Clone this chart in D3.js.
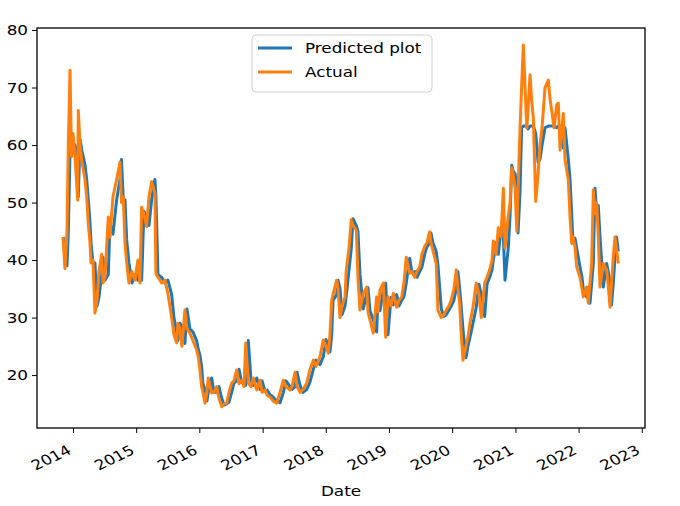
<!DOCTYPE html>
<html>
<head>
<meta charset="utf-8">
<script src="https://cdn.jsdelivr.net/npm/d3@7"></script>
<style>
    body { margin: 0; background: #fff; }
    svg text { font-family: "DejaVu Sans", sans-serif; fill: #000; }
    .axis path, .axis line { stroke: #000; }
</style>
</head>
<body>
<div id="chart"></div>
<script>
// dates as decimal years
const dates = [
    2013.842, 2013.873, 2013.905, 2013.926, 2013.953, 2013.976, 2014.000, 2014.032, 2014.074, 2014.084,
    2014.111, 2014.142, 2014.190, 2014.217, 2014.242, 2014.269, 2014.285, 2014.316, 2014.348, 2014.380,
    2014.411, 2014.454, 2014.475, 2014.506, 2014.559, 2014.585, 2014.633, 2014.691, 2014.744, 2014.767,
    2014.796, 2014.823, 2014.850, 2014.886, 2014.934, 2014.981, 2015.028, 2015.060, 2015.087, 2015.123,
    2015.166, 2015.203, 2015.245, 2015.297, 2015.313, 2015.345, 2015.403, 2015.456, 2015.503, 2015.562,
    2015.598, 2015.641, 2015.661, 2015.693, 2015.725, 2015.772, 2015.804, 2015.851, 2015.899, 2015.957,
    2015.983, 2016.009, 2016.036, 2016.057, 2016.089, 2016.120, 2016.141, 2016.195, 2016.231, 2016.274,
    2016.310, 2016.353, 2016.389, 2016.432, 2016.468, 2016.511, 2016.547, 2016.590, 2016.627, 2016.669,
    2016.706, 2016.733, 2016.774, 2016.816, 2016.853, 2016.907, 2016.959, 2016.991, 2017.038, 2017.070,
    2017.117, 2017.165, 2017.223, 2017.275, 2017.328, 2017.370, 2017.434, 2017.465, 2017.513, 2017.544,
    2017.592, 2017.639, 2017.698, 2017.750, 2017.802, 2017.845, 2017.908, 2017.960, 2018.003, 2018.040,
    2018.066, 2018.093, 2018.114, 2018.172, 2018.193, 2018.225, 2018.256, 2018.304, 2018.324, 2018.367,
    2018.403, 2018.430, 2018.483, 2018.509, 2018.541, 2018.593, 2018.647, 2018.668, 2018.699, 2018.752,
    2018.805, 2018.826, 2018.858, 2018.910, 2018.948, 2018.984, 2019.032, 2019.068, 2019.122, 2019.158,
    2019.201, 2019.237, 2019.274, 2019.328, 2019.364, 2019.407, 2019.443, 2019.486, 2019.522, 2019.565,
    2019.601, 2019.644, 2019.665, 2019.696, 2019.748, 2019.775, 2019.828, 2019.870, 2019.907, 2019.949,
    2019.986, 2020.028, 2020.065, 2020.092, 2020.119, 2020.139, 2020.171, 2020.218, 2020.250, 2020.282,
    2020.329, 2020.381, 2020.424, 2020.460, 2020.514, 2020.551, 2020.593, 2020.630, 2020.650, 2020.693,
    2020.729, 2020.772, 2020.809, 2020.835, 2020.888, 2020.915, 2020.941, 2020.962, 2020.994, 2021.021,
    2021.041, 2021.073, 2021.097, 2021.125, 2021.152, 2021.179, 2021.199, 2021.231, 2021.255, 2021.283,
    2021.321, 2021.358, 2021.389, 2021.421, 2021.468, 2021.521, 2021.547, 2021.574, 2021.611, 2021.653,
    2021.679, 2021.706, 2021.758, 2021.785, 2021.837, 2021.864, 2021.891, 2021.911, 2021.943, 2021.970,
    2022.022, 2022.054, 2022.074, 2022.128, 2022.153, 2022.180, 2022.207, 2022.233, 2022.259, 2022.286,
    2022.312, 2022.339, 2022.391, 2022.444, 2022.465, 2022.497, 2022.521, 2022.549, 2022.576, 2022.600,
    2022.628
];

const actual = [
    44, 38.5, 45, 60, 73, 58, 62, 58, 50.4, 66,
    60, 57, 54, 51, 46.4, 43, 39.5, 40, 30.8, 33,
    38, 41, 36, 37, 47.5, 44, 51, 54, 57, 50,
    51, 43, 39.5, 36, 38, 36.5, 40, 36, 49.2, 48,
    45.8, 51, 53.6, 51.6, 37.7, 37, 36, 36.5, 34.2, 30,
    27, 25.6, 29, 28, 25, 31.3, 28, 27.3, 26, 24.4,
    23.2, 21, 18, 17, 15.1, 17, 19.5, 16.9, 17, 18,
    16, 14.5, 15, 15.1, 17, 18.6, 19, 20.9, 18.5, 19.1,
    18, 25.6, 18.6, 18, 19.5, 17.4, 19.1, 17, 17.4, 16.5,
    16.2, 15.5, 15.1, 17, 19.1, 18, 17.4, 18, 20.5, 18,
    17, 17.5, 18.6, 21, 22.6, 21.5, 23.2, 26.1, 25, 23.8,
    27, 33, 34, 36.5, 35, 30, 32, 33.6, 38.3, 42,
    47, 46, 45.2, 37, 31.3, 34.2, 35.3, 31, 29.6, 27.3,
    33.6, 31, 34.8, 36, 26.6, 33.6, 32, 34.2, 31.8, 33,
    33.6, 36, 40.5, 37.7, 38, 37, 38, 38.8, 41, 42.3,
    43, 44.9, 43, 41.7, 39.4, 31.3, 30, 30.5, 31.3, 32,
    33, 35, 38.3, 35, 32.5, 28, 22.6, 25, 26.6, 29,
    31.8, 36, 34, 30, 36, 37, 38.3, 40, 43.3, 41,
    45.6, 44, 52.5, 42.1, 47.8, 50, 56, 55, 52.5, 45,
    52, 63, 70, 77.4, 70, 63, 66, 72.2, 68, 64.7,
    50.2, 55, 60, 63, 70, 71.3, 68, 66, 63, 67,
    67.3, 59.1, 65.5, 57.4, 53.9, 47.5, 42.9, 44, 42.3, 38.8,
    37, 35, 33.6, 35.3, 32.5, 36, 39.4, 52.2, 48, 49.9,
    44, 35.3, 39.4, 38.3, 36, 31.8, 36, 40.5, 44, 42,
    39.4
];

const predicted = [
    44, 43, 39, 45, 59, 60.5, 59, 60, 58, 51,
    61, 59, 56.5, 54, 50.5, 46.5, 43, 39.5, 39.5, 32,
    33.5, 37.5, 40.5, 36.5, 37.5, 46.5, 44.5, 50.5, 54, 57.5,
    50.5, 50.5, 43.5, 39.5, 36, 37.5, 36.5, 39.5, 36.5, 48.5,
    47.5, 46, 50.5, 54, 51, 37.5, 37, 36, 36.5, 34,
    30, 27.5, 26, 29, 28.5, 25.5, 31.5, 28, 27.5, 26,
    24.5, 23.5, 21.5, 18.5, 17.5, 15.5, 17, 19.5, 17, 17,
    18, 16, 14.8, 15, 15.3, 17, 18.6, 19, 21, 18.7,
    19, 18.2, 26, 19, 18.2, 19.5, 17.5, 19, 17.2, 17.4,
    16.6, 16.2, 15.5, 15.2, 17, 19, 18, 17.5, 18, 20.5,
    18.2, 17, 17.5, 18.8, 21, 22.6, 21.8, 23.2, 26.2, 25,
    24, 27, 33, 34, 36.5, 35, 30.5, 32, 33.8, 38.3,
    42, 47.2, 46, 45, 37.5, 31.5, 34.2, 35.2, 31.2, 29.6,
    27.5, 33.5, 31.2, 34.8, 36, 27, 33.5, 32.2, 34, 32,
    33, 33.6, 36, 40.3, 37.8, 38, 37, 38, 38.8, 41,
    42.3, 43, 44.7, 43, 41.5, 39.2, 31.5, 30.2, 30.5, 31.3,
    32, 33, 35, 38, 35, 32.5, 28, 23, 25, 26.6,
    29, 31.8, 35.8, 34, 30.2, 35.8, 37, 38.3, 40, 43,
    41, 45.4, 44, 36.5, 42.3, 47.8, 56.5, 55.5, 55, 52.5,
    44.7, 52, 63, 63.3, 63.3, 63.3, 62.8, 63.3, 63.3, 63.3,
    62, 57, 57.5, 60, 63, 63.3, 63.3, 63.3, 63.3, 63,
    63.3, 63.3, 59.5, 63, 57.5, 54, 47.8, 43, 43.8, 42,
    38.8, 37, 35, 33.6, 35.2, 32.5, 36, 39.5, 52.5, 48,
    49.5, 44, 35.3, 39.4, 38.2, 36, 32.2, 36, 40.5, 44,
    41.5
];

const yearTicks = [2014, 2015, 2016, 2017, 2018, 2019, 2020, 2021, 2022, 2023];
const valueTicks = [20, 30, 40, 50, 60, 70, 80];
const seriesNames = ["Predicted plot", "Actual"];

const margin = {top: 28, right: 35, bottom: 78, left: 37};
const totalW = 680, totalH = 506;
const width = totalW - margin.left - margin.right;
const height = totalH - margin.top - margin.bottom;
const stretch = 1.2; // text looks wider than tall

function toDate(y) {
    const yr = Math.floor(y);
    const start = new Date(yr, 0, 1), end = new Date(yr + 1, 0, 1);
    return new Date(+start + (y - yr) * (end - start));
}

const rows = dates.map((d, i) => ({date: toDate(d), actual: actual[i], predicted: predicted[i]}));

const svg = d3.select("#chart")
    .append("svg")
    .attr("width", totalW)
    .attr("height", totalH)
    .append("g")
    .attr("transform", `translate(${margin.left},${margin.top})`);

const x = d3.scaleTime()
    .domain([toDate(2013.43), toDate(2023.051)])
    .range([0, width]);

const y = d3.scaleLinear()
    .domain([10.8, 80.35])
    .range([height, 0]);

// lines
const colors = ["#1f77b4", "#ff7f0e"];
const keys = ["predicted", "actual"];

keys.forEach((k, i) => {
    svg.append("path")
        .datum(rows)
        .attr("fill", "none")
        .attr("stroke", colors[i])
        .attr("stroke-width", 3)
        .attr("stroke-linejoin", "round")
        .attr("d", d3.line().x(d => x(d.date)).y(d => y(d[k])));
});

// frame
svg.append("rect")
    .attr("width", width)
    .attr("height", height)
    .attr("fill", "none")
    .attr("stroke", "#000")
    .attr("stroke-width", 1.3);

// x-as
svg.append("g")
    .attr("class", "axis")
    .attr("transform", `translate(0,${height})`)
    .call(d3.axisBottom(x)
        .tickValues(yearTicks.map(toDate))
        .tickFormat(d3.timeFormat("%Y"))
        .tickSize(5).tickSizeOuter(0))
    .call(g => g.select(".domain").remove())
    .selectAll("text")
    .attr("font-size", 14)
    .attr("dy", null)
    .attr("y", 0)
    .attr("x", 0)
    .attr("transform", `translate(-1,25) scale(${stretch},1) rotate(-30)`)
    .style("text-anchor", "end");

// y-as
svg.append("g")
    .attr("class", "axis")
    .call(d3.axisLeft(y).tickValues(valueTicks).tickSize(5).tickSizeOuter(0))
    .call(g => g.select(".domain").remove())
    .selectAll("text")
    .attr("font-size", 14)
    .attr("x", 0)
    .attr("transform", `translate(-9,0) scale(${stretch},1)`);

svg.append("text")
    .attr("transform", `translate(${width / 2},${height + 68}) scale(${stretch},1)`)
    .attr("text-anchor", "middle")
    .attr("font-size", 14)
    .text("Date");

// legend
const legend = svg.append("g").attr("transform", `translate(${252 - margin.left},${35 - margin.top})`);
legend.append("rect")
    .attr("width", 180).attr("height", 57).attr("rx", 4)
    .attr("fill", "#fff").attr("fill-opacity", 0.8)
    .attr("stroke", "#d0d0d0");

seriesNames.forEach((name, i) => {
    const ly = 13 + i * 24;
    legend.append("line")
        .attr("x1", 6).attr("x2", 40)
        .attr("y1", ly).attr("y2", ly)
        .attr("stroke", colors[i]).attr("stroke-width", 3);
    legend.append("text")
        .attr("transform", `translate(53,${ly + 5}) scale(${stretch},1)`)
        .attr("font-size", 14)
        .text(name);
});
</script>
</body>
</html>
